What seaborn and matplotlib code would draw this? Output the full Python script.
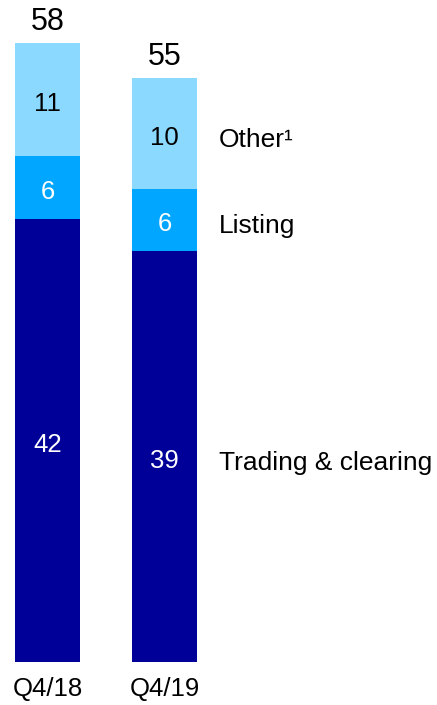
import matplotlib
matplotlib.use("Agg")
import matplotlib.pyplot as plt
import numpy as np
import seaborn as sns

sns.set_theme(style="white")
plt.rcParams["font.family"] = ["Liberation Sans", "DejaVu Sans"]

quarters = ["Q4/18", "Q4/19"]
segments = ["Trading & clearing", "Listing", "Other¹"]
trading = [41.6, 38.6]
listing = [5.9, 5.8]
other = [10.6, 10.4]
colors = ["#000099", "#00A6FF", "#8CD9FF"]
text_colors = ["white", "white", "black"]

layers = [np.array(trading), np.array(listing), np.array(other)]
bottoms = [np.zeros(2), layers[0], layers[0] + layers[1]]
tops = [b + v for b, v in zip(bottoms, layers)]
totals = tops[-1]

fig = plt.figure(figsize=(4.37, 7.05), dpi=100)
ax = fig.add_axes([0, 43 / 705, 1, 662 / 705])

# stack by overdrawing cumulative heights, top layer first
for top, col in reversed(list(zip(tops, colors))):
    sns.barplot(x=quarters, y=top, color=col, width=0.556, saturation=1,
                ax=ax, linewidth=0)

for vals, bot, tc in zip(layers, bottoms, text_colors):
    for i, (v, b) in enumerate(zip(vals, bot)):
        ax.text(i, b + v / 2 - 0.45, f"{round(v):d}", ha="center", va="center",
                color=tc, fontsize=18.5)

for i, t in enumerate(totals):
    ax.annotate(f"{round(t):d}", (i, t), xytext=(0, 9), textcoords="offset points",
                ha="center", va="baseline", fontsize=22, color="black")

# segment names beside the second bar
for name, bot, vals in zip(segments, bottoms, layers):
    ax.text(1.466, bot[1] + vals[1] / 2 - 0.6, name, ha="left", va="center",
            fontsize=19, color="black")

ax.set_xlim(-0.406, 3.329)
ax.set_ylim(0, 62.1)
ax.set_yticks([])
ax.set_ylabel("")
ax.tick_params(axis="x", length=0, pad=11, labelsize=18.5, labelcolor="black")
sns.despine(ax=ax, left=True, bottom=True)

fig.savefig("out.png", dpi=100)
